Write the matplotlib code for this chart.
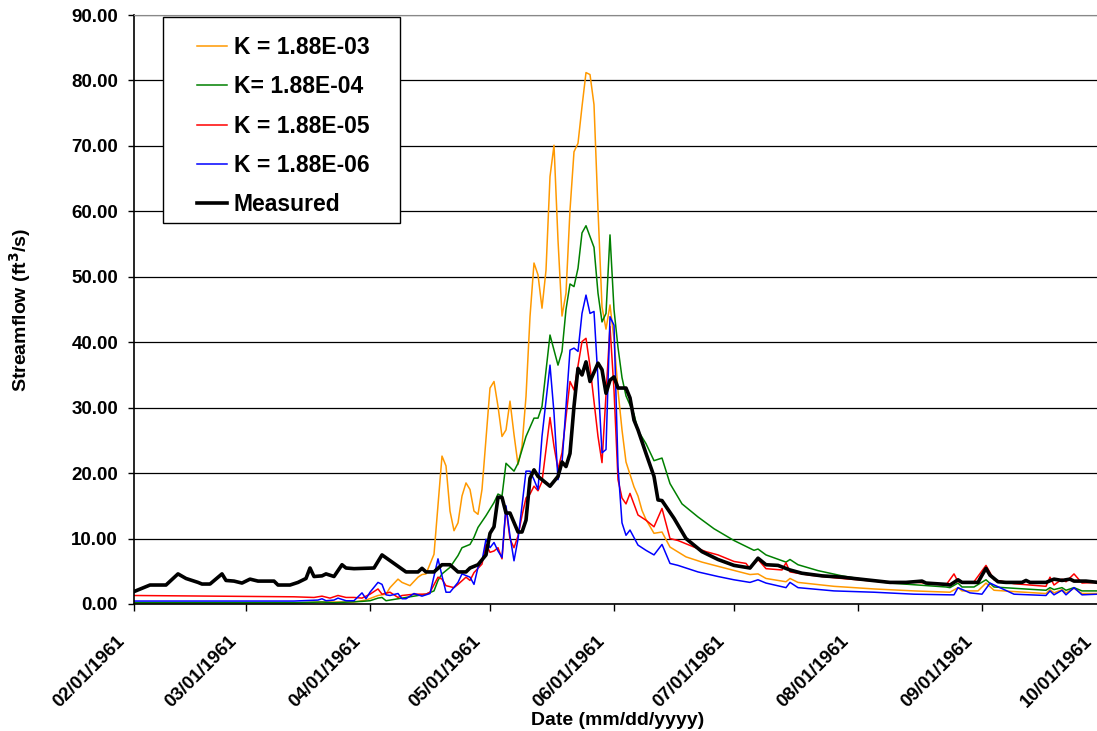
import matplotlib

matplotlib.use("Agg")
import matplotlib.dates as mdates
import matplotlib.pyplot as plt
import matplotlib.ticker as mticker
import matplotlib.transforms as mtransforms
from matplotlib.patches import Rectangle
import pandas as pd

START = pd.Timestamp("1961-02-01")

# days since 02/01/1961 -> streamflow (ft3/s)
meas_day = [0, 4, 8, 11, 13, 16, 17, 19, 22, 23, 25, 27, 29, 31, 35, 36, 39, 41, 43, 44,
            45, 47, 48, 50, 52, 53, 55, 60, 62, 68, 71, 72, 73, 75, 77, 79, 81, 83, 84, 86,
            88, 89, 90, 91, 92, 93, 94, 96, 97, 98, 99, 100, 101, 104, 106, 107, 108, 109, 110, 111,
            112, 113, 114, 116, 117, 118, 119, 120, 121, 123, 124, 125, 126, 128, 130, 131, 132, 135, 138, 142,
            146, 150, 154, 156, 158, 161, 164, 167, 172, 177, 183, 189, 193, 197, 198, 203, 204, 206, 207, 211,
            212, 213, 214, 216, 218, 222, 223, 224, 228, 230, 232, 234, 235, 238, 241]
meas_val = [1.9, 2.9, 2.9, 4.6, 3.9, 3.3, 3.05, 3.05, 4.6, 3.6, 3.5, 3.2, 3.8, 3.5, 3.5, 2.9, 2.9, 3.3, 3.9, 5.5,
            4.2, 4.3, 4.6, 4.2, 6.0, 5.5, 5.4, 5.5, 7.5, 4.9, 4.9, 5.45, 4.9, 4.9, 6.0, 6.0, 4.9, 4.9, 5.5, 6.0,
            7.5, 10.8, 11.8, 16.3, 16.3, 13.9, 13.9, 11.0, 11.0, 12.8, 19.2, 20.5, 19.5, 18.0, 19.5, 21.7, 21.0, 23.0, 30.2, 36.0,
            35.0, 37.0, 34.0, 36.8, 35.8, 32.2, 34.2, 34.7, 33.0, 33.0, 31.5, 28.1, 26.6, 23.0, 19.5, 15.9, 15.8, 13.1, 10.0, 8.0,
            6.8, 5.9, 5.5, 7.0, 6.0, 5.9, 5.2, 4.7, 4.3, 4.1, 3.7, 3.3, 3.3, 3.5, 3.2, 3.0, 2.9, 3.7, 3.3, 3.3,
            4.4, 5.45, 4.4, 3.4, 3.3, 3.3, 3.6, 3.3, 3.3, 3.8, 3.6, 3.8, 3.5, 3.5, 3.3]

k3_day = [0, 20, 40, 47, 50, 55, 58, 61, 63, 64, 66, 67, 69, 71, 72, 73, 75, 77, 78, 79,
          80, 81, 82, 83, 84, 85, 86, 87, 89, 90, 91, 92, 93, 94, 95, 96, 97, 98, 99, 100,
          101, 102, 103, 104, 105, 106, 107, 108, 109, 110, 111, 112, 113, 114, 115, 116, 117, 118, 119, 120,
          121, 122, 123, 124, 125, 126, 127, 128, 130, 132, 134, 138, 142, 147, 154, 156, 158, 163, 164, 166,
          175, 185, 195, 204, 206, 207, 211, 213, 215, 220, 228, 229, 230, 232, 233, 235, 237, 241]
k3_val = [0.15, 0.15, 0.15, 0.3, 0.3, 0.3, 0.6, 1.3, 1.5, 2.5, 3.8, 3.3, 2.8, 4.1, 4.5, 4.6, 7.6, 22.6, 21.1, 14.2,
          11.2, 12.4, 16.5, 18.5, 17.5, 14.2, 13.7, 17.5, 33.0, 34.0, 30.2, 25.6, 26.6, 31.0, 25.9, 21.3, 24.1, 31.7, 43.9, 52.1,
          50.3, 45.2, 51.0, 65.3, 70.1, 55.6, 44.0, 47.5, 60.2, 69.1, 70.4, 76.0, 81.2, 80.9, 76.3, 60.2, 45.4, 42.0, 45.7, 40.4,
          32.6, 26.6, 21.7, 19.8, 17.9, 16.5, 14.3, 12.9, 10.8, 11.0, 8.7, 7.2, 6.4, 5.6, 4.5, 4.6, 3.9, 3.4, 3.9, 3.3,
          2.7, 2.3, 2.0, 1.8, 2.5, 2.0, 2.0, 3.2, 2.1, 1.9, 1.6, 2.2, 1.7, 2.2, 1.7, 2.4, 1.6, 1.6]

k4_day = [0, 40, 47, 50, 57, 59, 61, 62, 63, 66, 68, 70, 73, 75, 76, 77, 79, 81, 82, 84,
          85, 86, 88, 89, 90, 91, 92, 93, 95, 96, 98, 100, 101, 102, 104, 106, 107, 108, 109, 110,
          111, 112, 113, 115, 116, 117, 118, 119, 120, 121, 122, 123, 125, 126, 128, 130, 132, 134, 137, 141,
          145, 150, 153, 155, 156, 158, 163, 164, 166, 171, 177, 183, 189, 196, 203, 204, 206, 207, 210, 213,
          215, 220, 228, 229, 230, 232, 233, 235, 237, 241]
k4_val = [0.2, 0.2, 0.3, 0.2, 0.4, 0.5, 0.9, 1.0, 0.5, 0.8, 1.0, 1.2, 1.5, 2.0, 3.6, 4.6, 5.6, 7.4, 8.6, 9.1,
          10.2, 11.7, 13.5, 14.5, 15.5, 16.8, 16.5, 21.5, 20.3, 21.5, 25.6, 28.4, 28.4, 30.2, 41.1, 36.5, 38.6, 45.0, 48.9, 48.5,
          51.3, 56.7, 57.8, 54.5, 47.5, 43.1, 44.4, 56.4, 45.0, 39.2, 34.6, 31.8, 29.0, 26.5, 24.5, 21.9, 22.3, 18.4, 15.3, 13.3,
          11.5, 9.7, 8.8, 8.2, 8.4, 7.5, 6.4, 6.8, 6.0, 5.1, 4.3, 3.7, 3.2, 2.9, 2.6, 2.5, 3.2, 2.6, 2.6, 3.7,
          2.6, 2.4, 2.1, 2.5, 2.2, 2.5, 2.1, 2.5, 2.0, 2.0]

k5_day = [0, 20, 40, 45, 47, 49, 51, 53, 55, 57, 59, 61, 62, 64, 66, 67, 70, 73, 74, 76,
          77, 78, 80, 81, 83, 84, 85, 87, 88, 89, 90, 91, 92, 93, 94, 95, 96, 97, 98, 99,
          100, 101, 102, 104, 105, 106, 107, 109, 110, 112, 113, 114, 116, 117, 119, 120, 121, 122, 123, 124,
          126, 128, 130, 132, 134, 136, 140, 143, 146, 150, 153, 154, 156, 158, 162, 163, 164, 169, 177, 187,
          196, 203, 205, 206, 210, 213, 215, 220, 228, 229, 230, 232, 233, 235, 237, 241]
k5_val = [1.3, 1.2, 1.1, 1.0, 1.2, 0.9, 1.3, 1.0, 1.0, 0.9, 1.5, 2.3, 1.5, 1.8, 1.0, 1.3, 1.5, 1.5, 1.8, 4.1,
          3.8, 2.8, 2.5, 3.0, 4.1, 3.6, 4.8, 6.1, 9.1, 7.9, 8.1, 8.6, 6.9, 14.7, 9.9, 8.6, 10.4, 13.5, 16.2, 16.8,
          18.0, 17.3, 18.7, 28.5, 24.1, 20.6, 23.1, 34.0, 32.7, 40.1, 40.6, 36.3, 25.6, 21.6, 42.4, 32.7, 19.0, 16.2, 15.3, 16.9,
          13.6, 12.8, 11.8, 14.6, 10.0, 9.7, 8.7, 8.0, 7.5, 6.5, 6.2, 5.4, 6.8, 5.4, 5.2, 6.3, 4.9, 4.4, 3.9, 3.4,
          3.3, 2.9, 4.6, 3.4, 3.4, 5.9, 3.7, 3.1, 2.7, 4.1, 2.9, 3.8, 3.4, 4.6, 3.2, 3.3]

k6_day = [0, 20, 40, 46, 47, 48, 50, 51, 53, 55, 57, 58, 59, 61, 62, 63, 64, 66, 67, 68,
          70, 72, 74, 76, 77, 78, 79, 81, 82, 84, 85, 86, 87, 88, 89, 90, 91, 92, 93, 94,
          95, 96, 97, 98, 99, 100, 101, 102, 104, 105, 106, 107, 109, 110, 111, 112, 113, 114, 115, 116,
          117, 118, 119, 120, 121, 122, 123, 124, 126, 128, 130, 132, 134, 136, 141, 146, 150, 154, 156, 158,
          163, 164, 166, 175, 185, 195, 204, 205, 206, 209, 212, 214, 220, 228, 229, 230, 232, 233, 235, 237, 241]
k6_val = [0.45, 0.45, 0.45, 0.6, 0.8, 0.5, 0.6, 0.9, 0.5, 0.5, 1.7, 0.8, 1.8, 3.3, 3.0, 1.4, 1.3, 1.6, 0.8, 0.8,
          1.6, 1.2, 1.6, 6.9, 4.3, 1.8, 1.8, 3.3, 4.6, 4.1, 3.0, 5.6, 6.6, 9.9, 8.6, 9.4, 8.1, 7.1, 15.0, 10.4,
          6.6, 9.9, 15.0, 20.3, 20.3, 19.0, 17.5, 25.6, 36.5, 29.2, 19.0, 21.5, 38.8, 39.1, 38.6, 44.4, 47.2, 44.4, 44.7, 34.3,
          23.1, 23.6, 43.9, 42.6, 21.0, 12.4, 10.5, 11.3, 9.0, 8.2, 7.5, 9.1, 6.2, 5.9, 4.9, 4.2, 3.7, 3.3, 3.7, 3.2,
          2.5, 3.3, 2.5, 2.0, 1.8, 1.5, 1.4, 1.4, 2.5, 1.7, 1.5, 3.2, 1.5, 1.3, 2.0, 1.4, 2.1, 1.4, 2.5, 1.4, 1.5]

series = [
    ("K = 1.88E-03", k3_day, k3_val, "#FF9900", 1.1),
    ("K= 1.88E-04", k4_day, k4_val, "#008000", 1.1),
    ("K = 1.88E-05", k5_day, k5_val, "#FF0000", 1.1),
    ("K = 1.88E-06", k6_day, k6_val, "#0000FF", 1.1),
    ("Measured", meas_day, meas_val, "black", 2.6),
]


def to_dates(days):
    return START + pd.to_timedelta(days, unit="D")


plt.rcParams["font.family"] = ["Liberation Sans", "DejaVu Sans"]
plt.rcParams["font.weight"] = "bold"

W, H = 1097, 731
fig = plt.figure(figsize=(W / 100, H / 100), dpi=100)
# plot area runs a little past the right edge, as in the original
ax = fig.add_axes([134 / W, 1 - 604 / H, 968 / W, 589 / H])

for label, d, v, col, lw in series:
    ax.plot(to_dates(d), v, color=col, linewidth=lw, label=label)

ax.set_ylim(0, 90)
ax.set_xlim(START, pd.Timestamp("1961-10-01"))
ax.yaxis.set_major_locator(mticker.MultipleLocator(10))
ax.yaxis.set_major_formatter(mticker.FormatStrFormatter("%.2f"))
ax.xaxis.set_major_locator(mdates.MonthLocator())
ax.xaxis.set_major_formatter(mdates.DateFormatter("%m/%d/%Y"))
ax.grid(True, axis="y", color="black", linewidth=0.9)
ax.set_axisbelow(True)

ax.tick_params(axis="y", direction="out", length=4.5, width=1, pad=7, labelsize=13.5)
ax.tick_params(axis="x", direction="out", length=5, width=1, pad=20, labelsize=13.5)

fig.canvas.draw()
shift = mtransforms.ScaledTranslation(-12 / 100, 0, fig.dpi_scale_trans)
for lab in ax.get_xticklabels():
    lab.set_rotation(45)
    lab.set_ha("right")
    lab.set_va("center")
    lab.set_rotation_mode("anchor")
    lab.set_fontweight("bold")
    lab.set_transform(lab.get_transform() + shift)
for lab in ax.get_yticklabels():
    lab.set_fontweight("bold")

ax.spines["right"].set_visible(False)
ax.spines["top"].set_color("#888888")
for s in ("left", "bottom"):
    ax.spines[s].set_linewidth(1.2)

ax.set_ylabel("Streamflow (ft$^\\mathbf{3}$/s)", fontsize=14, fontweight="bold")
ax.yaxis.set_label_coords((33 - 134) / 968, 0.5)
ax.set_xlabel("Date (mm/dd/yyyy)", fontsize=14, fontweight="bold")
ax.xaxis.set_label_coords(0.5, (604 - 712) / 589)

# legend frame drawn separately so the inner margins match the original box
box = Rectangle((163 / W, 1 - 223 / H), 237 / W, 206 / H,
                transform=fig.transFigure, facecolor="white",
                edgecolor="black", linewidth=1.0, zorder=4, clip_on=False)
ax.add_artist(box)
leg = ax.legend(loc="upper left", bbox_to_anchor=(197 / W, 1 - 36 / H),
                bbox_transform=fig.transFigure, fontsize=16.5, frameon=False,
                handlelength=1.3, labelspacing=0.71, borderpad=0, borderaxespad=0,
                handletextpad=0.3)
leg.set_zorder(6)

fig.savefig("out.png", dpi=100, facecolor="white")
